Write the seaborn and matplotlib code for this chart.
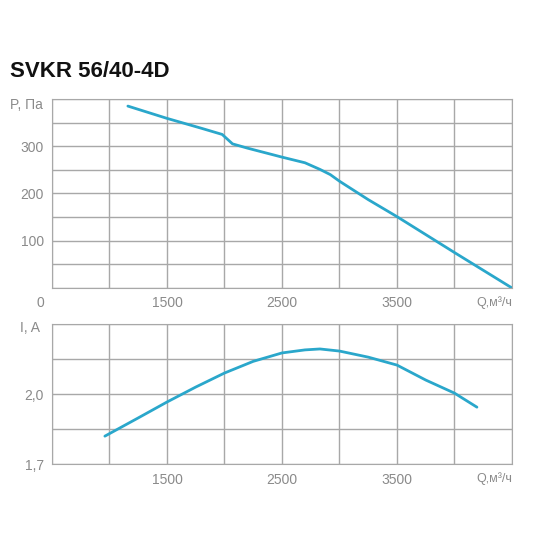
import numpy as np
import pandas as pd
import matplotlib
matplotlib.use("Agg")
import matplotlib.pyplot as plt
import seaborn as sns

# Кривая давления
q_p = [1160, 1500, 1800, 1980, 2070, 2200, 2500, 2700, 2830, 2920, 3000, 3250, 3500, 4000, 4500]
p = [385, 359, 338, 325, 305, 296, 277, 265, 251, 240, 226, 187, 151, 75, 0]

# Кривая тока
q_i = [960, 1250, 1500, 1750, 2000, 2250, 2500, 2700, 2830, 3000, 3250, 3500, 3750, 4000, 4195]
i_a = [1.820, 1.898, 1.966, 2.030, 2.090, 2.140, 2.176, 2.189, 2.193, 2.184, 2.158, 2.124, 2.060, 2.004, 1.944]

xticks = [1500, 2500, 3500]
color = "#2aa7cb"
grid_c = "#a8a8a8"
txt_c = "#8a8a8a"

sns.set_style("white")
plt.rcParams["font.family"] = ["Liberation Sans", "DejaVu Sans"]
fig = plt.figure(figsize=(5.5, 5.5), dpi=100)
ax1 = fig.add_axes([0.0945, 0.4764, 0.8364, 0.3436])
ax2 = fig.add_axes([0.0945, 0.156, 0.8364, 0.255])

df_p = pd.DataFrame({"Q": q_p, "P": p})
df_i = pd.DataFrame({"Q": q_i, "I": i_a})
sns.lineplot(data=df_p, x="Q", y="P", ax=ax1, color=color, lw=2)
sns.lineplot(data=df_i, x="Q", y="I", ax=ax2, color=color, lw=2)

for ax, ylim, ystep, yt, ytl in [(ax1, (0, 400), 50, [100, 200, 300], ["100", "200", "300"]),
                                 (ax2, (1.7, 2.3), 0.15, [1.7, 2.0], ["1,7", "2,0"])]:
    ax.set_xlim(500, 4500)
    ax.set_ylim(*ylim)
    ax.set_xticks(np.arange(500, 4501, 500), minor=True)
    ax.set_yticks(np.arange(ylim[0], ylim[1] + 1e-9, ystep), minor=True)
    ax.set_xticks(xticks)
    ax.set_yticks(yt)
    ax.set_yticklabels(ytl)
    ax.grid(True, which="both", color=grid_c, lw=1)
    ax.tick_params(which="both", length=0, colors=txt_c, labelsize=10, pad=6)
    for s in ax.spines.values():
        s.set_color(grid_c)
    ax.set_xlabel("")
    ax.set_ylabel("")
    ax.text(1.0, -0.045 if ax is ax1 else -0.06, "Q,м³/ч", transform=ax.transAxes,
            ha="right", va="top", color=txt_c, fontsize=9)

ax1.text(-0.02, 0.97, "P, Па", transform=ax1.transAxes, ha="right", va="center", color=txt_c, fontsize=10)
ax1.text(-0.025, -0.045, "0", transform=ax1.transAxes, ha="center", va="top", color=txt_c, fontsize=10)
ax2.text(-0.025, 0.97, "I, A", transform=ax2.transAxes, ha="right", va="center", color=txt_c, fontsize=10)

fig.text(0.018, 0.86, "SVKR 56/40-4D", fontsize=16, fontweight="bold", color="#111111")

fig.savefig("out.png", dpi=100)
